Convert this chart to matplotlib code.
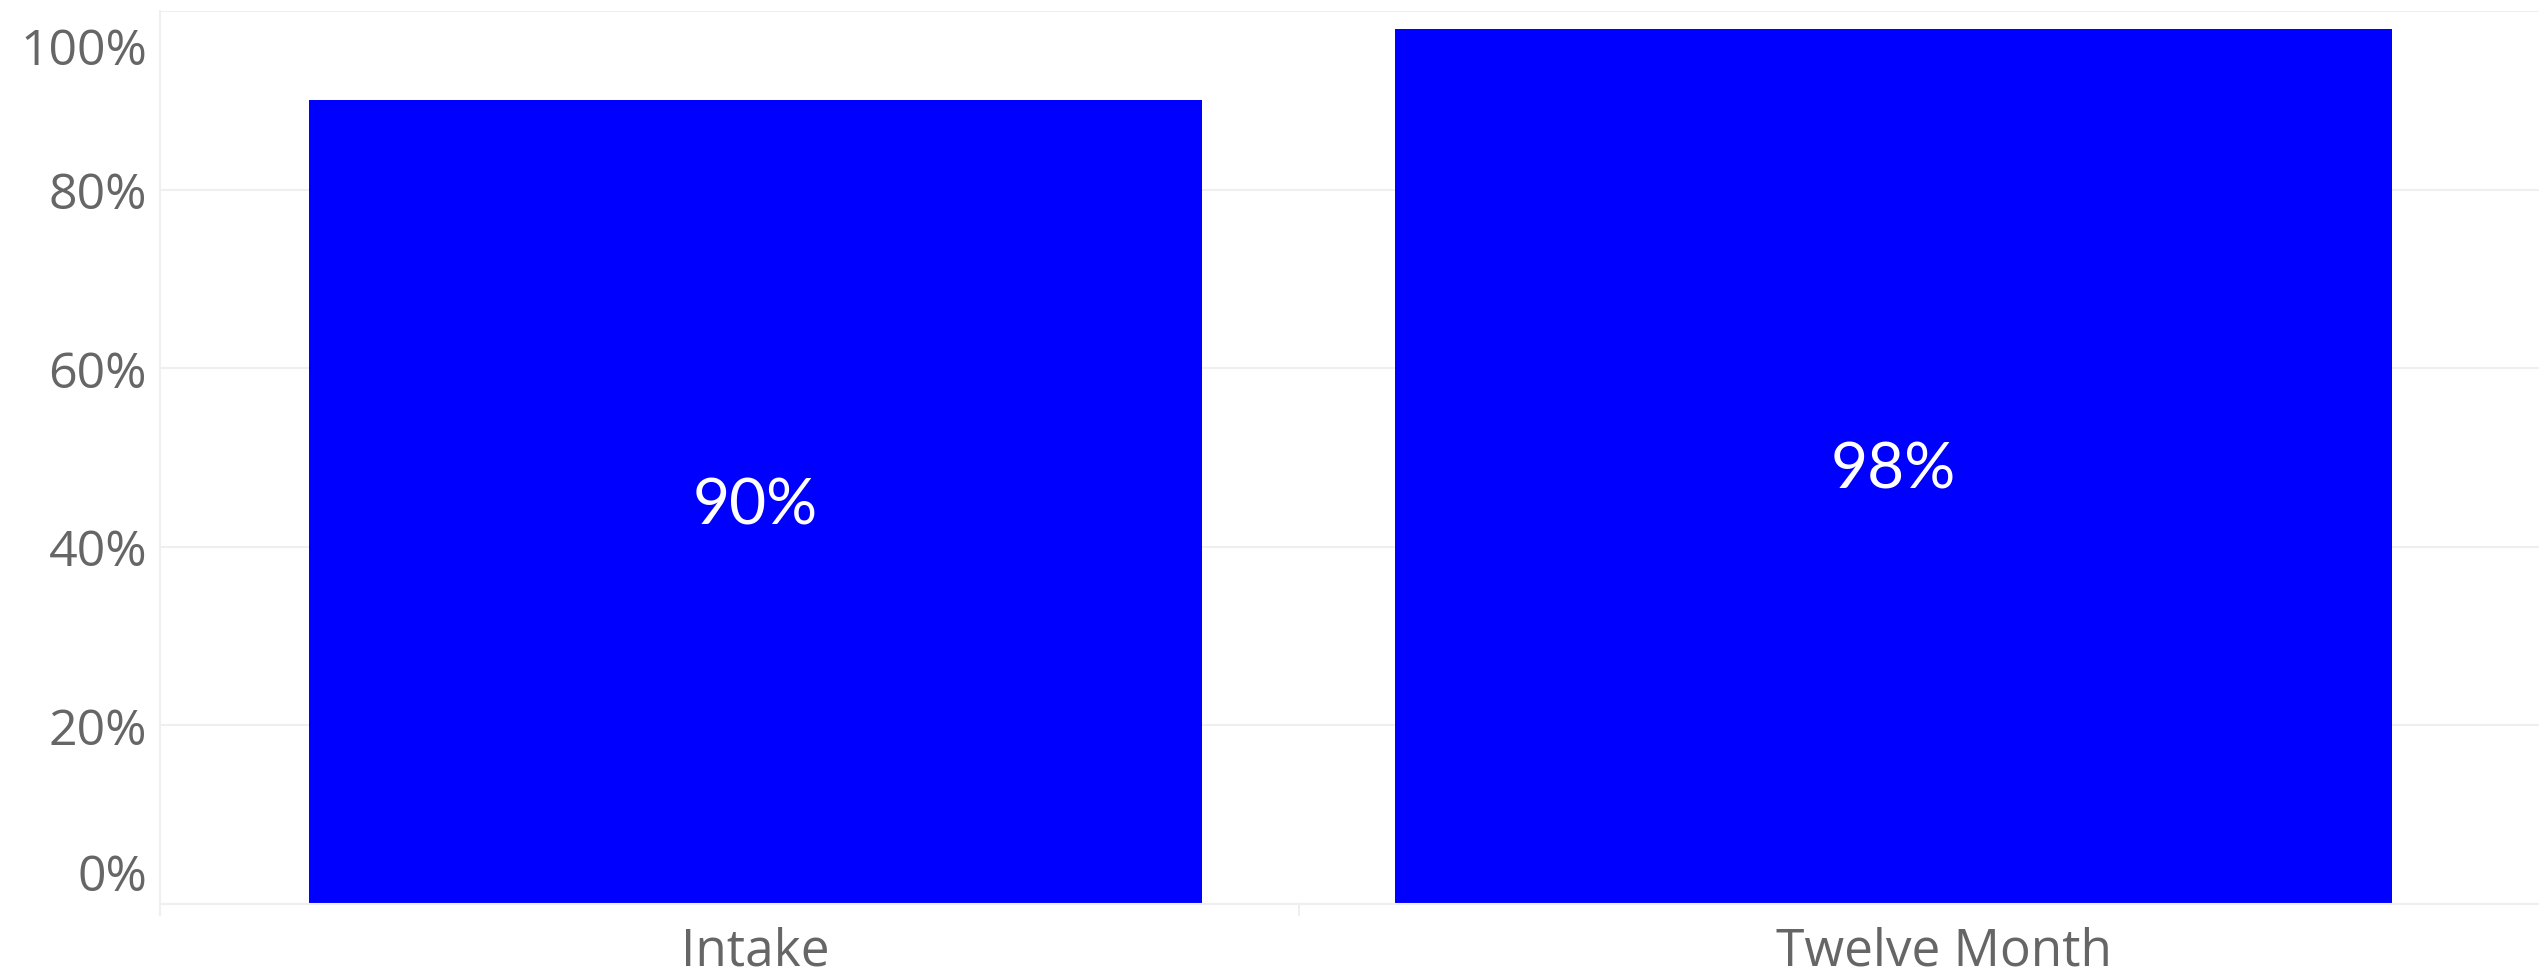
import matplotlib
matplotlib.use("Agg")
import matplotlib.pyplot as plt
import matplotlib.transforms as mtransforms
from matplotlib.ticker import FixedLocator

# ==================== DATA ====================
categories = ["Intake", "Twelve Month"]
values = [0.90, 0.98]
value_labels = ["90%", "98%"]
y_ticks = [0.0, 0.2, 0.4, 0.6, 0.8, 1.0]
y_tick_labels = ["0%", "20%", "40%", "60%", "80%", "100%"]

# ==================== STYLE ====================
BAR_COLOR = "#0000FF"
GRID_COLOR = "#EFEFEF"
TEXT_COLOR = "#666666"
bar_widths = [0.784, 0.876]
label_dx = [0, 50]   # Pixelversatz der Kategorienamen

W, H, DPI = 2539, 973, 100
fig = plt.figure(figsize=(W / DPI, H / DPI), dpi=DPI)
ax = fig.add_axes([160 / W, 69 / H, (W - 160) / W, (904 - 11) / H])

x = list(range(len(categories)))
ax.bar(x, values, width=bar_widths, color=BAR_COLOR, zorder=2)

ax.set_xlim(-0.523, 1.567)
ax.set_ylim(0, 1.0)

# Gitter
ax.yaxis.set_major_locator(FixedLocator(y_ticks))
ax.grid(axis="y", color=GRID_COLOR, linewidth=1.5, zorder=0)
ax.tick_params(axis="y", length=0, labelleft=False)
ax.tick_params(axis="x", length=0, labelbottom=False)
for side in ["top", "right"]:
    ax.spines[side].set_visible(False)
ax.spines["left"].set_color(GRID_COLOR)
ax.spines["left"].set_linewidth(1.5)
ax.spines["bottom"].set_color(GRID_COLOR)
ax.spines["bottom"].set_linewidth(1.5)

# Kleine Trennstriche unter der Achse
trans_x = ax.get_xaxis_transform()
divider = (x[0] + x[1]) / 2 - 0.022
ax.plot([divider, divider], [0, -0.012], color=GRID_COLOR, lw=1.5,
        transform=trans_x, clip_on=False)
ax.plot([ax.get_xlim()[0]] * 2, [0, -0.012], color=GRID_COLOR, lw=1.5,
        transform=trans_x, clip_on=False)

# Y-Beschriftung (Randlabels nach innen verschoben wie im Original)
trans_y = ax.get_yaxis_transform()
for val, lab in zip(y_ticks, y_tick_labels):
    dy = -19.5
    if val == y_ticks[0]:
        dy = 13
    elif val == y_ticks[-1]:
        dy = -54
    t = mtransforms.offset_copy(trans_y, fig=fig, x=-13, y=dy, units="dots")
    ax.text(0, val, lab, transform=t, ha="right", va="baseline",
            fontsize=36, color=TEXT_COLOR, family="Open Sans")

# Kategorien
for xi, cat, dx in zip(x, categories, label_dx):
    t = mtransforms.offset_copy(trans_x, fig=fig, x=dx, y=-61, units="dots")
    ax.text(xi, 0, cat, transform=t, ha="center", va="baseline",
            fontsize=37, color=TEXT_COLOR, family="Open Sans")

# Werte in den Balken
for xi, v, lab in zip(x, values, value_labels):
    t = mtransforms.offset_copy(ax.transData, fig=fig, x=0, y=-22, units="dots")
    ax.text(xi, v / 2, lab, transform=t, ha="center", va="baseline",
            fontsize=46, color="white", family="Lato", zorder=3)

fig.savefig("out.png", dpi=DPI)
